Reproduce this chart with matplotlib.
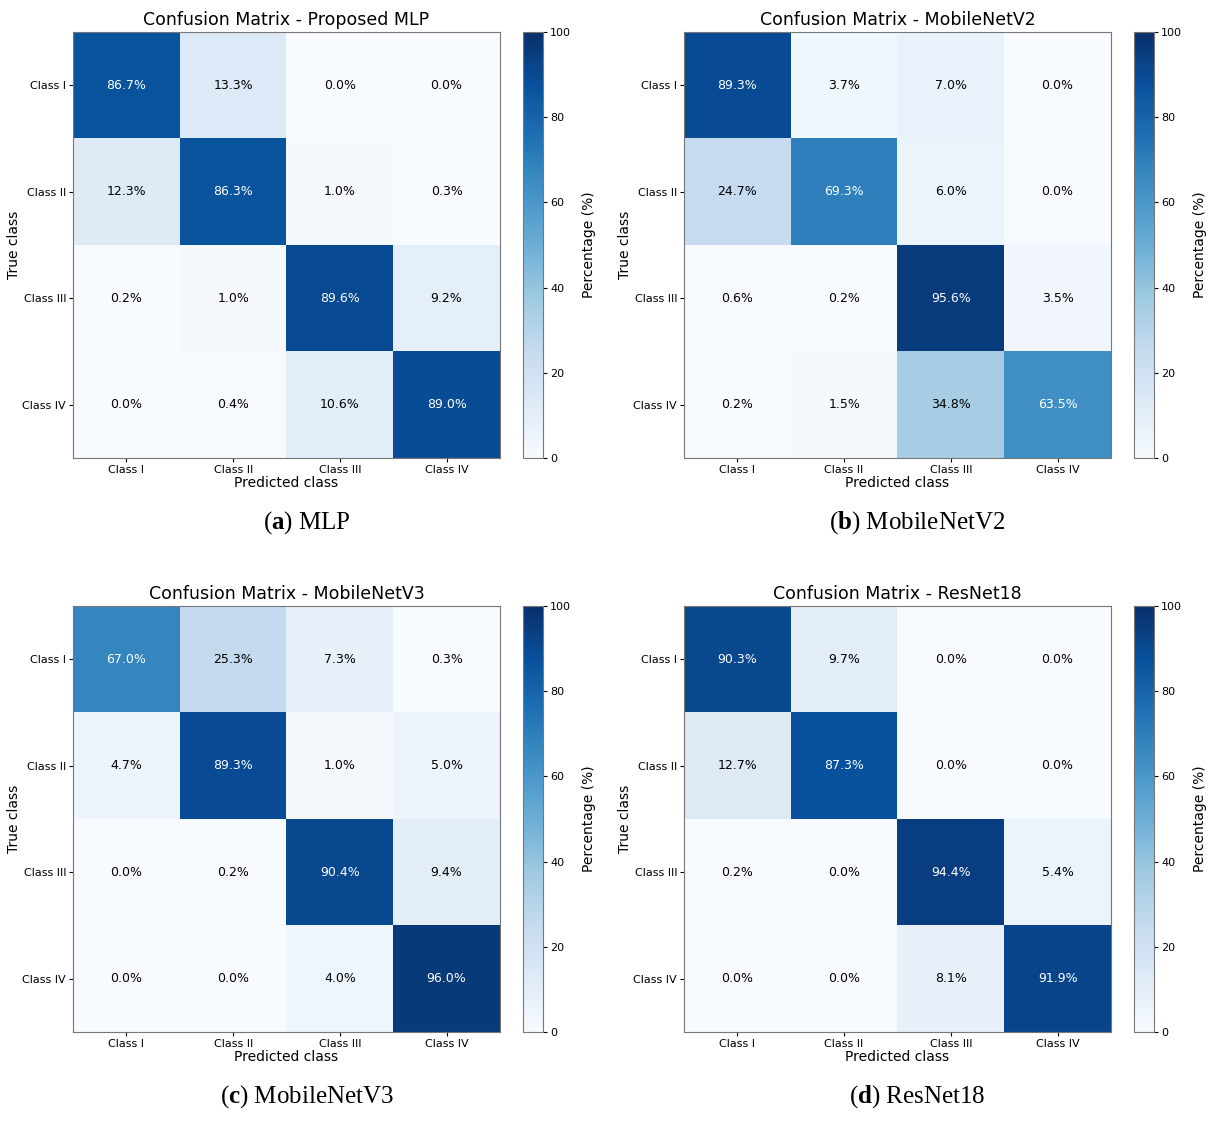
import matplotlib
matplotlib.use('Agg')
import matplotlib.pyplot as plt
import numpy as np

plt.rcParams['mathtext.fontset'] = 'custom'
plt.rcParams['mathtext.bf'] = 'Liberation Serif:bold'
plt.rcParams['mathtext.rm'] = 'Liberation Serif'

classes = ['Class I', 'Class II', 'Class III', 'Class IV']

mlp = [[86.7, 13.3, 0.0, 0.0],
       [12.3, 86.3, 1.0, 0.3],
       [0.2, 1.0, 89.6, 9.2],
       [0.0, 0.4, 10.6, 89.0]]

mobilenetv2 = [[89.3, 3.7, 7.0, 0.0],
               [24.7, 69.3, 6.0, 0.0],
               [0.6, 0.2, 95.6, 3.5],
               [0.2, 1.5, 34.8, 63.5]]

mobilenetv3 = [[67.0, 25.3, 7.3, 0.3],
               [4.7, 89.3, 1.0, 5.0],
               [0.0, 0.2, 90.4, 9.4],
               [0.0, 0.0, 4.0, 96.0]]

resnet18 = [[90.3, 9.7, 0.0, 0.0],
            [12.7, 87.3, 0.0, 0.0],
            [0.2, 0.0, 94.4, 5.4],
            [0.0, 0.0, 8.1, 91.9]]

titles = ['Confusion Matrix - Proposed MLP', 'Confusion Matrix - MobileNetV2',
          'Confusion Matrix - MobileNetV3', 'Confusion Matrix - ResNet18']
captions = [('a', 'MLP'), ('b', 'MobileNetV2'), ('c', 'MobileNetV3'), ('d', 'ResNet18')]
matrices = [mlp, mobilenetv2, mobilenetv3, resnet18]

W, H = 1214, 1122
fig = plt.figure(figsize=(W / 100, H / 100), dpi=100)

# axes boxes in pixels: left, top
boxes = [(73, 32), (684, 32), (73, 606), (684, 606)]
aw, ah = 427, 426

for (x0, y0), data, title, (letter, name) in zip(boxes, matrices, titles, captions):
    data = np.array(data)
    ax = fig.add_axes([x0 / W, 1 - (y0 + ah) / H, aw / W, ah / H])
    im = ax.imshow(data, cmap='Blues', vmin=0, vmax=100, aspect='auto')
    for i in range(4):
        for j in range(4):
            v = data[i, j]
            ax.text(j, i, f'{v:.1f}%', ha='center', va='center', fontsize=9,
                    color='white' if v > 50 else 'black')
    ax.set_xticks(range(4))
    ax.set_yticks(range(4))
    ax.set_xticklabels(classes, fontsize=8)
    ax.set_yticklabels(classes, fontsize=8)
    ax.tick_params(length=3, pad=2)
    ax.set_xlabel('Predicted class', fontsize=10, labelpad=1)
    ax.set_ylabel('True class', fontsize=10, labelpad=1)
    ax.set_title(title, fontsize=12.5, pad=5)
    for s in ax.spines.values():
        s.set_color('#777777')

    cax = fig.add_axes([(x0 + aw + 23) / W, 1 - (y0 + ah) / H, 20 / W, ah / H])
    cb = fig.colorbar(im, cax=cax)
    cb.set_ticks([0, 20, 40, 60, 80, 100])
    cb.ax.tick_params(labelsize=8, length=3, pad=2)
    cb.set_label('Percentage (%)', fontsize=10, labelpad=8)
    cb.outline.set_edgecolor('#777777')

    fig.text((x0 + aw / 2 + 20) / W, 1 - (y0 + 491) / H,
             '($\\mathbf{' + letter + '}$) ' + name,
             ha='center', va='center', fontsize=18, family='Liberation Serif')

plt.savefig('out.png', dpi=100)
